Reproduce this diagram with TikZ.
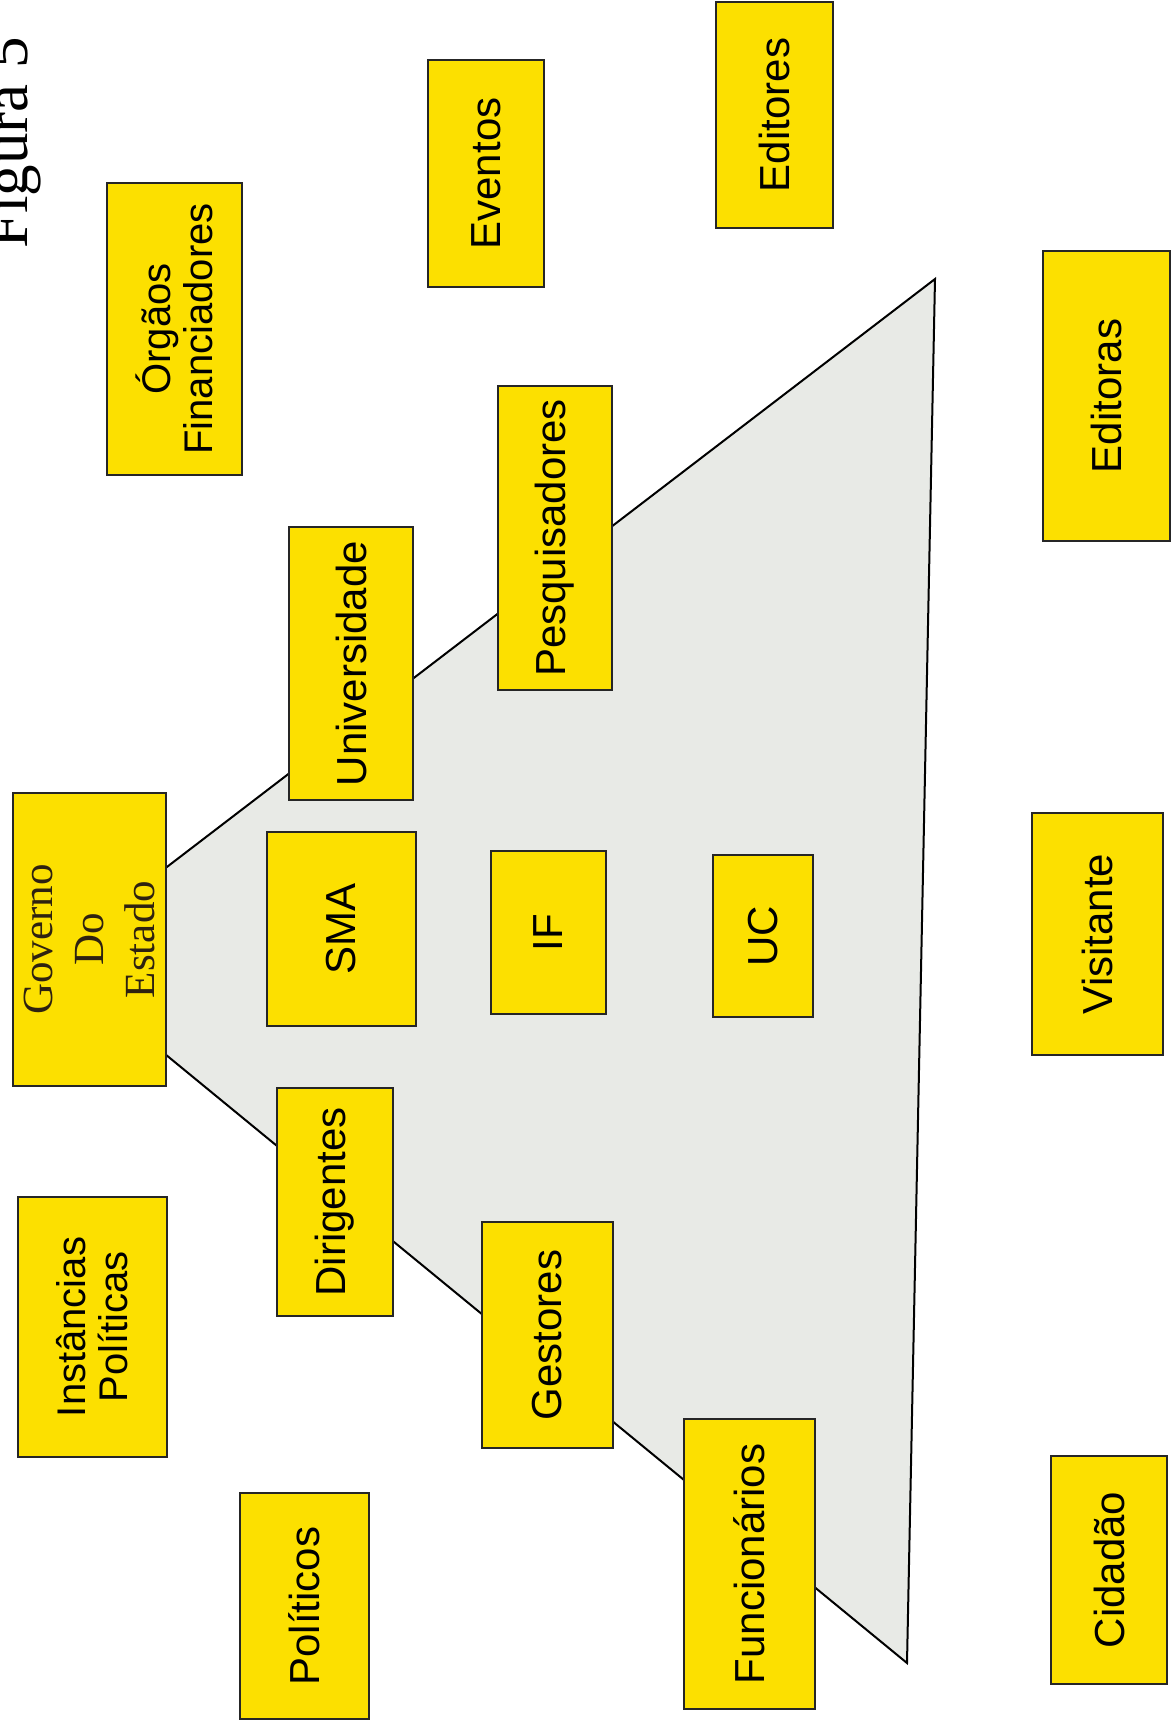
\documentclass[tikz,border=0pt]{standalone}
\usepackage{fontspec}
\setmainfont{Liberation Serif}
\setsansfont{Liberation Sans}
\usepackage{tikz}
\definecolor{BoxYellow}{HTML}{FCE000}
\definecolor{PyrGray}{HTML}{E8EAE6}
\definecolor{GovBrown}{HTML}{2E2210}

\begin{document}
\begin{tikzpicture}[x=0.5pt, y=-0.5pt,
  card/.style={draw=black!85, line width=0.85pt, fill=BoxYellow, rotate=90,
    inner sep=0pt, align=center, font=\sffamily\fontsize{21}{23}\selectfont},
  twoline/.style={font=\sffamily\fontsize{20}{21}\selectfont},
  sz/.style 2 args={minimum width=#2*0.5pt, minimum height=#1*0.5pt}]
  \path[use as bounding box, fill=white] (0,0) rectangle (1173,1729);

  % the pyramid behind the cards
  \coordinate (tip) at (48,958);
  \coordinate (topc) at (935,279);
  \coordinate (botc) at (907,1663);
  \filldraw[fill=PyrGray, draw=black, line width=1pt] (tip) -- (topc) -- (botc) -- cycle;

  \node[rotate=90, anchor=base west, inner sep=0pt,
    font=\rmfamily\fontsize{31.5}{36}\selectfont] (figura) at (27,249) {Figura 5};

  % outer ring
  \node[card, twoline, sz={135}{292}] (orgaos) at (174.5,329) {Órgãos\\Financiadores};
  \node[card, sz={116}{227}] (eventos) at (486,173.5) {Eventos};
  \node[card, sz={117}{226}] (editores) at (774.5,115) {Editores};
  \node[card, sz={127}{290}] (editoras) at (1106.5,396) {Editoras};
  \node[card, twoline, sz={149}{260}] (instancias) at (92.5,1327) {Instâncias\\Políticas};
  \node[card, sz={129}{226}] (politicos) at (304.5,1606) {Políticos};
  \node[card, sz={131}{242}] (visitante) at (1097.5,934) {Visitante};
  \node[card, sz={116}{228}] (cidadao) at (1109,1570) {Cidadão};

  % inside the pyramid
  \node[card, sz={153}{293}, text=GovBrown,
    font=\rmfamily\fontsize{21.5}{25.5}\selectfont] (governo) at (89.5,939.5) {Governo\\Do\\Estado};
  \node[card, sz={124}{273}] (universidade) at (351,663.5) {Universidade};
  \node[card, sz={114}{304}] (pesquisadores) at (555,538) {Pesquisadores};
  \node[card, sz={149}{194}] (sma) at (341.5,929) {SMA};
  \node[card, sz={115}{163}] (if) at (548.5,932.5) {IF};
  \node[card, sz={100}{162}] (uc) at (763,936) {UC};
  \node[card, sz={116}{228}] (dirigentes) at (335,1202) {Dirigentes};
  \node[card, sz={131}{226}] (gestores) at (547.5,1335) {Gestores};
  \node[card, sz={131}{290}] (funcionarios) at (749.5,1564) {Funcionários};
\end{tikzpicture}
\end{document}
